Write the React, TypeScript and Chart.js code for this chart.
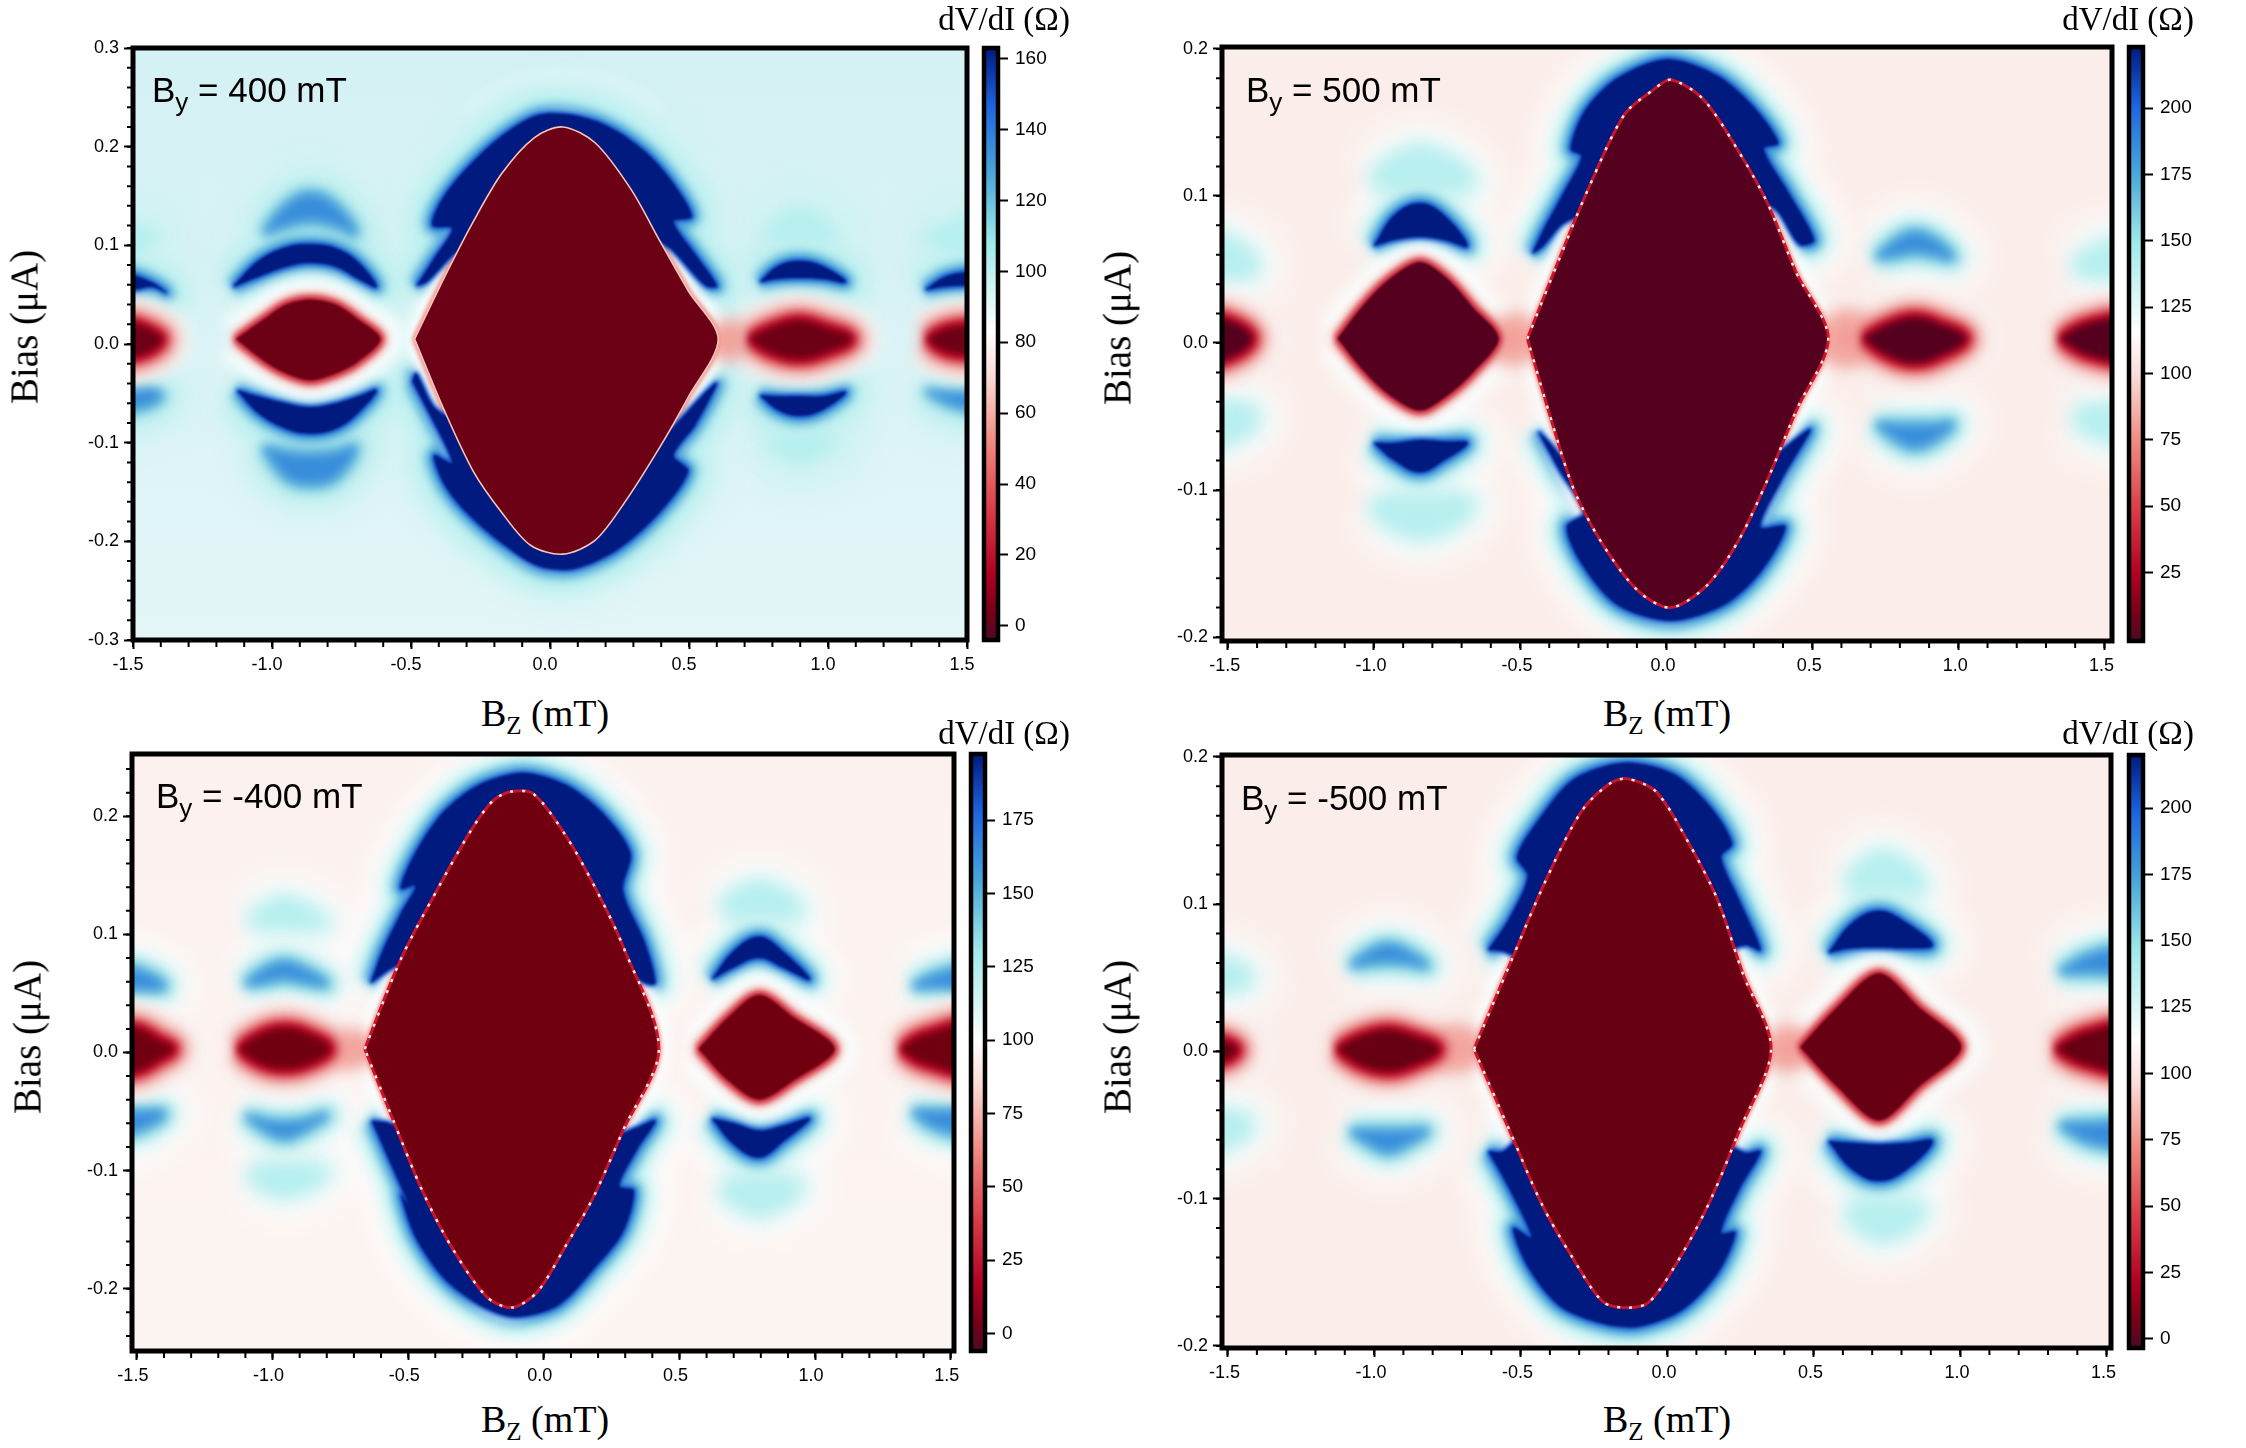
import React, { useEffect, useRef } from "react";
import { Chart, registerables } from "chart.js";

type Pt = [number, number];

// colour scale shared by all four panels (position on the bar, colour)
const colorStops: [number, string][] = [
  [0, "#4d0a24"], [0.05, "#7a0018"], [0.11, "#b00022"], [0.22, "#d93c48"],
  [0.335, "#f08a80"], [0.447, "#fbdcd8"], [0.52, "#ffffff"], [0.56, "#e6f8f8"],
  [0.67, "#a0eaea"], [0.785, "#4ba8d8"], [0.9, "#1e66e0"], [1, "#001a80"],
];

const xMajor = [-1.5, -1, -0.5, 0, 0.5, 1, 1.5];

// By = 400 mT
const p1Diamond: Pt[] = [[-0.487, 0.005], [-0.379, 0.068], [-0.276, 0.124], [-0.173, 0.173], [-0.057, 0.209], [0.046, 0.22], [0.162, 0.204], [0.291, 0.157], [0.394, 0.105], [0.497, 0.054], [0.605, 0.005], [0.497, -0.054], [0.394, -0.105], [0.265, -0.162], [0.162, -0.199], [0.046, -0.213], [-0.07, -0.204], [-0.173, -0.171], [-0.276, -0.129], [-0.379, -0.068], [-0.487, 0.005]];
const p1Bands: Pt[][] = [
  [[-0.48, 0.059], [-0.417, 0.087], [-0.353, 0.117], [-0.423, 0.12], [-0.392, 0.145], [-0.3, 0.178], [-0.173, 0.211], [-0.044, 0.232], [0.085, 0.232], [0.214, 0.22], [0.343, 0.195], [0.446, 0.162], [0.51, 0.129], [0.446, 0.124], [0.523, 0.091], [0.6, 0.059], [0.56, 0.059], [0.44, 0.095], [0.37, 0.11], [0.32, 0.14], [0.19, 0.17], [0.046, 0.2], [-0.1, 0.165], [-0.3, 0.1], [-0.35, 0.09], [-0.443, 0.063], [-0.48, 0.059]],
  [[-0.495, -0.038], [-0.43, -0.073], [-0.353, -0.12], [-0.417, -0.113], [-0.379, -0.143], [-0.3, -0.171], [-0.173, -0.202], [-0.044, -0.225], [0.085, -0.228], [0.24, -0.209], [0.394, -0.171], [0.497, -0.129], [0.446, -0.113], [0.523, -0.082], [0.6, -0.04], [0.56, -0.049], [0.44, -0.085], [0.34, -0.11], [0.27, -0.14], [0.162, -0.18], [0.046, -0.195], [-0.08, -0.18], [-0.27, -0.11], [-0.34, -0.08], [-0.42, -0.063], [-0.482, -0.03], [-0.495, -0.038]],
];
const p1Strong: Pt[][] = [
  [[-1.14, 0.058], [-1.05, 0.084], [-0.95, 0.098], [-0.863, 0.101], [-0.77, 0.097], [-0.69, 0.083], [-0.624, 0.058], [-0.69, 0.066], [-0.77, 0.078], [-0.863, 0.082], [-0.95, 0.078], [-1.05, 0.068], [-1.14, 0.058]],
  [[-1.126, -0.047], [-1.05, -0.07], [-0.95, -0.086], [-0.863, -0.091], [-0.77, -0.086], [-0.69, -0.07], [-0.624, -0.047], [-0.69, -0.053], [-0.77, -0.06], [-0.863, -0.064], [-0.95, -0.06], [-1.05, -0.053], [-1.126, -0.047]],
  [[0.755, 0.063], [0.82, 0.079], [0.897, 0.084], [0.98, 0.079], [1.064, 0.063], [0.98, 0.066], [0.897, 0.067], [0.82, 0.066], [0.755, 0.063]],
  [[0.755, -0.052], [0.82, -0.053], [0.897, -0.053], [0.98, -0.053], [1.064, -0.049], [0.98, -0.067], [0.897, -0.073], [0.82, -0.067], [0.755, -0.052]],
  [[-1.6, 0.078], [-1.5, 0.07], [-1.43, 0.062], [-1.38, 0.052], [-1.43, 0.058], [-1.5, 0.055], [-1.6, 0.056], [-1.6, 0.078]],
  [[1.35, 0.055], [1.42, 0.068], [1.5, 0.073], [1.6, 0.075], [1.6, 0.058], [1.5, 0.059], [1.42, 0.058], [1.35, 0.055]],
];
const p1Medium: Pt[][] = [
  [[-1.03, 0.112], [-0.95, 0.14], [-0.863, 0.152], [-0.77, 0.14], [-0.7, 0.112], [-0.77, 0.12], [-0.863, 0.125], [-0.95, 0.12], [-1.03, 0.112]],
  [[-1.03, -0.105], [-0.95, -0.11], [-0.863, -0.112], [-0.77, -0.11], [-0.7, -0.105], [-0.77, -0.135], [-0.863, -0.142], [-0.95, -0.135], [-1.03, -0.105]],
  [[-1.6, -0.05], [-1.5, -0.048], [-1.43, -0.047], [-1.4, -0.053], [-1.43, -0.06], [-1.5, -0.066], [-1.6, -0.072], [-1.6, -0.05]],
  [[1.35, -0.047], [1.42, -0.05], [1.5, -0.05], [1.6, -0.05], [1.6, -0.068], [1.5, -0.065], [1.42, -0.058], [1.35, -0.047]],
];
const p1Faint: Pt[][] = [
  [[0.78, 0.108], [0.84, 0.125], [0.897, 0.132], [0.96, 0.125], [1.02, 0.108], [0.96, 0.11], [0.897, 0.112], [0.84, 0.11], [0.78, 0.108]],
  [[0.78, -0.098], [0.84, -0.099], [0.897, -0.1], [0.96, -0.099], [1.02, -0.098], [0.96, -0.108], [0.897, -0.115], [0.84, -0.108], [0.78, -0.098]],
  [[-1.6, 0.13], [-1.5, 0.115], [-1.42, 0.11], [-1.5, 0.1], [-1.6, 0.1], [-1.6, 0.13]],
  [[1.35, 0.108], [1.45, 0.118], [1.6, 0.13], [1.6, 0.1], [1.45, 0.1], [1.35, 0.108]],
];
const p1Hard: Pt[][] = [
  [[-1.13, 0.005], [-1.03, 0.025], [-0.95, 0.04], [-0.863, 0.045], [-0.77, 0.04], [-0.69, 0.025], [-0.61, 0.005], [-0.69, -0.018], [-0.77, -0.03], [-0.863, -0.037], [-0.95, -0.03], [-1.03, -0.017], [-1.13, 0.005]],
];
const p1Soft: Pt[][] = [
  [[0.72, 0.005], [0.8, 0.016], [0.897, 0.023], [0.99, 0.016], [1.08, 0.005], [0.99, -0.008], [0.897, -0.014], [0.8, -0.008], [0.72, 0.005]],
  [[-1.6, 0.02], [-1.5, 0.02], [-1.43, 0.012], [-1.4, 0.005], [-1.43, -0.005], [-1.5, -0.012], [-1.6, -0.012], [-1.6, 0.02]],
  [[1.36, 0.005], [1.42, 0.014], [1.5, 0.018], [1.6, 0.02], [1.6, -0.012], [1.5, -0.01], [1.42, -0.006], [1.36, 0.005]],
];
const p1Bridges: Pt[][] = [[[0.6, 0.012], [0.64, 0.016], [0.68, 0.012], [0.68, -0.004], [0.64, -0.008], [0.6, -0.004], [0.6, 0.012]]];
const p1Rings: Pt[][] = [
  [[-0.3, 0.235], [-0.15, 0.262], [0.05, 0.272], [0.25, 0.262], [0.4, 0.235]],
  [[-0.3, -0.225], [-0.15, -0.25], [0.05, -0.258], [0.25, -0.25], [0.4, -0.225]],
];

// By = 500 mT
const p2Diamond: Pt[] = [[-0.475, 0.003], [-0.364, 0.058], [-0.266, 0.105], [-0.144, 0.155], [-0.045, 0.172], [0.016, 0.179], [0.126, 0.166], [0.249, 0.13], [0.347, 0.095], [0.445, 0.048], [0.555, 0.003], [0.445, -0.046], [0.347, -0.093], [0.249, -0.134], [0.139, -0.165], [0.016, -0.18], [-0.094, -0.169], [-0.217, -0.137], [-0.315, -0.1], [-0.389, -0.055], [-0.475, 0.003]];
const p2Bands: Pt[][] = [
  [[-0.457, 0.061], [-0.425, 0.075], [-0.352, 0.102], [-0.29, 0.127], [-0.327, 0.132], [-0.278, 0.158], [-0.168, 0.18], [0.004, 0.193], [0.175, 0.182], [0.298, 0.161], [0.384, 0.136], [0.335, 0.132], [0.42, 0.102], [0.506, 0.07], [0.457, 0.067], [0.38, 0.09], [0.3, 0.1], [0.2, 0.13], [0.077, 0.155], [-0.045, 0.155], [-0.168, 0.125], [-0.28, 0.09], [-0.36, 0.08], [-0.42, 0.066], [-0.457, 0.061]],
  [[-0.438, -0.06], [-0.364, -0.087], [-0.278, -0.115], [-0.34, -0.125], [-0.29, -0.15], [-0.168, -0.178], [0.016, -0.189], [0.2, -0.178], [0.323, -0.156], [0.408, -0.125], [0.323, -0.125], [0.396, -0.093], [0.494, -0.059], [0.445, -0.065], [0.36, -0.08], [0.3, -0.1], [0.2, -0.13], [0.016, -0.16], [-0.143, -0.14], [-0.26, -0.1], [-0.33, -0.085], [-0.39, -0.07], [-0.438, -0.06]],
];
const p2Strong: Pt[][] = [
  [[-1.0, 0.066], [-0.93, 0.087], [-0.843, 0.095], [-0.76, 0.087], [-0.68, 0.066], [-0.76, 0.07], [-0.843, 0.072], [-0.93, 0.07], [-1.0, 0.066]],
  [[-1.0, -0.068], [-0.93, -0.068], [-0.843, -0.066], [-0.76, -0.067], [-0.68, -0.068], [-0.76, -0.08], [-0.843, -0.088], [-0.93, -0.08], [-1.0, -0.068]],
];
const p2Medium: Pt[][] = [
  [[0.72, 0.058], [0.79, 0.07], [0.85, 0.075], [0.92, 0.07], [0.98, 0.058], [0.92, 0.06], [0.85, 0.062], [0.79, 0.06], [0.72, 0.058]],
  [[0.72, -0.055], [0.79, -0.056], [0.85, -0.056], [0.92, -0.056], [0.98, -0.055], [0.92, -0.066], [0.85, -0.071], [0.79, -0.066], [0.72, -0.055]],
];
const p2Faint: Pt[][] = [
  [[-1.0, 0.11], [-0.92, 0.122], [-0.843, 0.128], [-0.76, 0.122], [-0.68, 0.11], [-0.76, 0.11], [-0.843, 0.112], [-0.92, 0.11], [-1.0, 0.11]],
  [[-1.0, -0.11], [-0.92, -0.11], [-0.843, -0.11], [-0.76, -0.11], [-0.68, -0.11], [-0.76, -0.122], [-0.843, -0.127], [-0.92, -0.122], [-1.0, -0.11]],
  [[-1.62, 0.07], [-1.5, 0.066], [-1.42, 0.052], [-1.5, 0.05], [-1.62, 0.052], [-1.62, 0.07]],
  [[-1.62, -0.045], [-1.5, -0.046], [-1.42, -0.05], [-1.5, -0.062], [-1.62, -0.065], [-1.62, -0.045]],
  [[1.4, 0.052], [1.5, 0.062], [1.62, 0.068], [1.62, 0.05], [1.5, 0.05], [1.4, 0.052]],
  [[1.4, -0.05], [1.5, -0.048], [1.62, -0.046], [1.62, -0.064], [1.5, -0.06], [1.4, -0.05]],
];
const p2Hard: Pt[][] = [
  [[-1.125, 0.003], [-1.04, 0.025], [-0.95, 0.043], [-0.843, 0.055], [-0.75, 0.044], [-0.66, 0.024], [-0.573, 0.003], [-0.66, -0.02], [-0.75, -0.036], [-0.843, -0.046], [-0.95, -0.035], [-1.04, -0.018], [-1.125, 0.003]],
];
const p2Soft: Pt[][] = [
  [[0.678, 0.003], [0.76, 0.012], [0.85, 0.017], [0.94, 0.012], [1.022, 0.003], [0.94, -0.008], [0.85, -0.013], [0.76, -0.008], [0.678, 0.003]],
  [[-1.62, 0.018], [-1.5, 0.015], [-1.42, 0.003], [-1.5, -0.01], [-1.62, -0.012], [-1.62, 0.018]],
  [[1.35, 0.003], [1.45, 0.013], [1.6, 0.015], [1.6, -0.01], [1.45, -0.008], [1.35, 0.003]],
];
const p2Bridges: Pt[][] = [
  [[-0.58, 0.01], [-0.52, 0.014], [-0.47, 0.01], [-0.47, -0.005], [-0.52, -0.009], [-0.58, -0.005], [-0.58, 0.01]],
  [[0.55, 0.012], [0.61, 0.016], [0.68, 0.012], [0.68, -0.006], [0.61, -0.01], [0.55, -0.006], [0.55, 0.012]],
];

// By = -400 mT
const p3Diamond: Pt[] = [[-0.66, 0.003], [-0.527, 0.079], [-0.395, 0.137], [-0.263, 0.19], [-0.184, 0.214], [-0.118, 0.221], [-0.038, 0.219], [0.08, 0.184], [0.186, 0.141], [0.292, 0.09], [0.424, 0.003], [0.292, -0.066], [0.186, -0.121], [0.08, -0.164], [-0.025, -0.203], [-0.118, -0.216], [-0.21, -0.207], [-0.342, -0.164], [-0.448, -0.117], [-0.554, -0.058], [-0.66, 0.003]];
const p3Bands: Pt[][] = [
  [[-0.638, 0.059], [-0.593, 0.087], [-0.527, 0.118], [-0.474, 0.141], [-0.527, 0.139], [-0.474, 0.169], [-0.369, 0.204], [-0.237, 0.227], [-0.078, 0.237], [0.08, 0.227], [0.212, 0.204], [0.319, 0.169], [0.292, 0.137], [0.371, 0.094], [0.411, 0.059], [0.371, 0.059], [0.3, 0.075], [0.2, 0.12], [0.028, 0.18], [-0.118, 0.2], [-0.237, 0.175], [-0.38, 0.12], [-0.5, 0.08], [-0.57, 0.07], [-0.638, 0.059]],
  [[-0.634, -0.058], [-0.567, -0.093], [-0.501, -0.128], [-0.527, -0.12], [-0.474, -0.156], [-0.369, -0.191], [-0.237, -0.214], [-0.104, -0.224], [0.054, -0.214], [0.186, -0.183], [0.292, -0.152], [0.332, -0.117], [0.279, -0.113], [0.345, -0.082], [0.411, -0.058], [0.358, -0.062], [0.25, -0.075], [0.16, -0.12], [0, -0.17], [-0.118, -0.195], [-0.237, -0.175], [-0.38, -0.12], [-0.5, -0.07], [-0.57, -0.06], [-0.634, -0.058]],
];
const p3Strong: Pt[][] = [
  [[0.62, 0.062], [0.7, 0.086], [0.794, 0.098], [0.88, 0.086], [0.98, 0.062], [0.88, 0.072], [0.794, 0.08], [0.7, 0.072], [0.62, 0.062]],
  [[0.62, -0.056], [0.7, -0.06], [0.794, -0.066], [0.88, -0.062], [0.98, -0.056], [0.88, -0.076], [0.794, -0.089], [0.7, -0.078], [0.62, -0.056]],
];
const p3Medium: Pt[][] = [
  [[-1.1, 0.058], [-1.03, 0.07], [-0.956, 0.076], [-0.88, 0.07], [-0.8, 0.058], [-0.88, 0.06], [-0.956, 0.063], [-1.03, 0.06], [-1.1, 0.058]],
  [[-1.1, -0.053], [-1.03, -0.058], [-0.956, -0.06], [-0.88, -0.058], [-0.8, -0.053], [-0.88, -0.065], [-0.956, -0.072], [-1.03, -0.065], [-1.1, -0.053]],
  [[-1.62, 0.072], [-1.5, 0.07], [-1.4, 0.056], [-1.5, 0.054], [-1.62, 0.056], [-1.62, 0.072]],
  [[-1.62, -0.05], [-1.5, -0.05], [-1.4, -0.052], [-1.5, -0.066], [-1.62, -0.07], [-1.62, -0.05]],
  [[1.36, 0.056], [1.45, 0.066], [1.62, 0.074], [1.62, 0.056], [1.45, 0.056], [1.36, 0.056]],
  [[1.36, -0.05], [1.45, -0.05], [1.62, -0.05], [1.62, -0.07], [1.45, -0.064], [1.36, -0.05]],
];
const p3Faint: Pt[][] = [
  [[-1.08, 0.11], [-1.02, 0.118], [-0.956, 0.124], [-0.89, 0.118], [-0.82, 0.11], [-0.89, 0.112], [-0.956, 0.113], [-1.02, 0.112], [-1.08, 0.11]],
  [[-1.08, -0.102], [-1.02, -0.102], [-0.956, -0.103], [-0.89, -0.102], [-0.82, -0.102], [-0.89, -0.11], [-0.956, -0.115], [-1.02, -0.11], [-1.08, -0.102]],
  [[0.66, 0.12], [0.73, 0.132], [0.794, 0.137], [0.86, 0.132], [0.93, 0.12], [0.86, 0.122], [0.794, 0.124], [0.73, 0.122], [0.66, 0.12]],
  [[0.66, -0.113], [0.73, -0.114], [0.794, -0.114], [0.86, -0.114], [0.93, -0.113], [0.86, -0.125], [0.794, -0.131], [0.73, -0.125], [0.66, -0.113]],
];
const p3Hard: Pt[][] = [
  [[0.57, 0.003], [0.68, 0.03], [0.794, 0.049], [0.92, 0.03], [1.072, 0.003], [0.92, -0.024], [0.794, -0.04], [0.68, -0.024], [0.57, 0.003]],
];
const p3Soft: Pt[][] = [
  [[-1.122, 0.003], [-1.04, 0.015], [-0.956, 0.02], [-0.87, 0.015], [-0.792, 0.003], [-0.87, -0.009], [-0.956, -0.013], [-1.04, -0.009], [-1.122, 0.003]],
  [[-1.6, 0.02], [-1.5, 0.02], [-1.42, 0.01], [-1.37, 0.003], [-1.42, -0.005], [-1.5, -0.015], [-1.6, -0.015], [-1.6, 0.02]],
  [[1.32, 0.003], [1.4, 0.014], [1.6, 0.022], [1.6, -0.015], [1.4, -0.008], [1.32, 0.003]],
];
const p3Bridges: Pt[][] = [[[-0.76, 0.008], [-0.71, 0.012], [-0.66, 0.008], [-0.66, -0.003], [-0.71, -0.006], [-0.76, -0.003], [-0.76, 0.008]]];

// By = -500 mT
const p4Diamond: Pt[] = [[-0.659, 0.0015], [-0.537, 0.059], [-0.414, 0.116], [-0.292, 0.163], [-0.194, 0.182], [-0.133, 0.185], [-0.036, 0.176], [0.075, 0.141], [0.172, 0.103], [0.258, 0.053], [0.355, 0.0015], [0.246, -0.054], [0.148, -0.101], [0.05, -0.138], [-0.06, -0.17], [-0.133, -0.174], [-0.219, -0.17], [-0.329, -0.138], [-0.427, -0.104], [-0.537, -0.054], [-0.659, 0.0015]];
const p4Bands: Pt[][] = [
  [[-0.61, 0.069], [-0.537, 0.091], [-0.476, 0.119], [-0.512, 0.132], [-0.439, 0.157], [-0.317, 0.185], [-0.146, 0.196], [0.026, 0.188], [0.148, 0.166], [0.222, 0.141], [0.185, 0.132], [0.246, 0.103], [0.319, 0.069], [0.27, 0.072], [0.2, 0.07], [0.13, 0.1], [0.026, 0.13], [-0.12, 0.165], [-0.268, 0.145], [-0.4, 0.1], [-0.5, 0.065], [-0.56, 0.068], [-0.61, 0.069]],
  [[-0.61, -0.068], [-0.537, -0.094], [-0.464, -0.126], [-0.525, -0.12], [-0.476, -0.146], [-0.366, -0.173], [-0.219, -0.185], [-0.097, -0.187], [0.05, -0.176], [0.172, -0.151], [0.233, -0.123], [0.185, -0.123], [0.246, -0.094], [0.319, -0.068], [0.27, -0.069], [0.2, -0.065], [0.12, -0.095], [0.05, -0.12], [-0.133, -0.155], [-0.292, -0.125], [-0.4, -0.09], [-0.5, -0.06], [-0.56, -0.068], [-0.61, -0.068]],
];
const p4Strong: Pt[][] = [
  [[0.551, 0.067], [0.63, 0.087], [0.723, 0.0955], [0.82, 0.087], [0.906, 0.072], [0.82, 0.07], [0.723, 0.0705], [0.63, 0.07], [0.551, 0.067]],
  [[0.551, -0.061], [0.63, -0.062], [0.723, -0.063], [0.82, -0.062], [0.906, -0.061], [0.82, -0.08], [0.723, -0.088], [0.63, -0.08], [0.551, -0.061]],
];
const p4Medium: Pt[][] = [
  [[-1.08, 0.058], [-1.02, 0.067], [-0.952, 0.072], [-0.88, 0.067], [-0.82, 0.058], [-0.88, 0.06], [-0.952, 0.061], [-1.02, 0.06], [-1.08, 0.058]],
  [[-1.08, -0.054], [-1.02, -0.054], [-0.952, -0.054], [-0.88, -0.054], [-0.82, -0.054], [-0.88, -0.062], [-0.952, -0.068], [-1.02, -0.062], [-1.08, -0.054]],
  [[1.34, 0.054], [1.45, 0.066], [1.62, 0.07], [1.62, 0.054], [1.45, 0.054], [1.34, 0.054]],
  [[1.34, -0.05], [1.45, -0.049], [1.62, -0.048], [1.62, -0.064], [1.45, -0.062], [1.34, -0.05]],
];
const p4Faint: Pt[][] = [
  [[0.62, 0.112], [0.68, 0.124], [0.733, 0.13], [0.8, 0.124], [0.86, 0.112], [0.8, 0.114], [0.733, 0.116], [0.68, 0.114], [0.62, 0.112]],
  [[0.62, -0.108], [0.68, -0.108], [0.733, -0.108], [0.8, -0.108], [0.86, -0.108], [0.8, -0.118], [0.733, -0.123], [0.68, -0.118], [0.62, -0.108]],
  [[-1.62, 0.06], [-1.52, 0.058], [-1.44, 0.05], [-1.52, 0.046], [-1.62, 0.046], [-1.62, 0.06]],
  [[-1.62, -0.046], [-1.52, -0.046], [-1.44, -0.05], [-1.52, -0.06], [-1.62, -0.06], [-1.62, -0.046]],
];
const p4Hard: Pt[][] = [
  [[0.454, 0.003], [0.58, 0.03], [0.723, 0.053], [0.86, 0.03], [1.004, 0.003], [0.86, -0.024], [0.723, -0.047], [0.58, -0.024], [0.454, 0.003]],
];
const p4Soft: Pt[][] = [
  [[-1.123, 0.0015], [-1.04, 0.01], [-0.952, 0.014], [-0.87, 0.01], [-0.781, 0.0015], [-0.87, -0.009], [-0.952, -0.013], [-1.04, -0.009], [-1.123, 0.0015]],
  [[-1.62, 0.008], [-1.52, 0.007], [-1.47, 0.001], [-1.52, -0.006], [-1.62, -0.007], [-1.62, 0.008]],
  [[1.33, 0.0015], [1.43, 0.012], [1.6, 0.016], [1.6, -0.012], [1.43, -0.008], [1.33, 0.0015]],
];
const p4Bridges: Pt[][] = [
  [[-0.78, 0.008], [-0.72, 0.012], [-0.66, 0.008], [-0.66, -0.004], [-0.72, -0.008], [-0.78, -0.004], [-0.78, 0.008]],
  [[0.36, 0.008], [0.41, 0.012], [0.46, 0.008], [0.46, -0.004], [0.41, -0.008], [0.36, -0.004], [0.36, 0.008]],
];

interface Panel {
  label: string; left: number; right: number; top: number; bottom: number;
  xRange: Pt; yRange: Pt; yMajor: number[]; cbLeft: number; cbRange: Pt; cbTicks: number[];
  bgTop: string; bgBottom: string; base: number; core: string; dashed: boolean; labelOffset: number;
  diamond: Pt[]; bands: Pt[][]; strong: Pt[][]; medium: Pt[][]; faint: Pt[][]; hard: Pt[][]; soft: Pt[][]; bridges: Pt[][]; rings: Pt[][];
  labelX: number; labelY: number; biasX: number; biasY: number; bzX: number; bzY: number; unitX: number; unitY: number;
}

const panels: Panel[] = [
  {
    label: "400 mT", left: 133, right: 967, top: 48, bottom: 640, xRange: [-1.5, 1.5], yRange: [-0.3, 0.3],
    yMajor: [-0.3, -0.2, -0.1, 0, 0.1, 0.2, 0.3], cbLeft: 984, cbRange: [-4, 163], cbTicks: [0, 20, 40, 60, 80, 100, 120, 140, 160],
    bgTop: "#d4f1f4", bgBottom: "#e3f6f8", base: 0.6, core: "#6c0014", dashed: false, labelOffset: -5,
    diamond: p1Diamond, bands: p1Bands, strong: p1Strong, medium: p1Medium, faint: p1Faint, hard: p1Hard, soft: p1Soft, bridges: p1Bridges, rings: p1Rings,
    labelX: 152, labelY: 72, biasX: 24, biasY: 327, bzX: 545, bzY: 713, unitX: 1004, unitY: 19,
  },
  {
    label: "500 mT", left: 1222, right: 2112, top: 47, bottom: 641, xRange: [-1.52, 1.526], yRange: [-0.2027, 0.2013],
    yMajor: [-0.2, -0.1, 0, 0.1, 0.2], cbLeft: 2129, cbRange: [-0.8, 223], cbTicks: [25, 50, 75, 100, 125, 150, 175, 200],
    bgTop: "#fbeeea", bgBottom: "#fbeeea", base: 0.52, core: "#55001e", dashed: true, labelOffset: -3,
    diamond: p2Diamond, bands: p2Bands, strong: p2Strong, medium: p2Medium, faint: p2Faint, hard: p2Hard, soft: p2Soft, bridges: p2Bridges, rings: [],
    labelX: 1246, labelY: 72, biasX: 1117, biasY: 328, bzX: 1667, bzY: 713, unitX: 2128, unitY: 19,
  },
  {
    label: "-400 mT", left: 132, right: 954, top: 754, bottom: 1351, xRange: [-1.518, 1.512], yRange: [-0.2528, 0.2528],
    yMajor: [-0.2, -0.1, 0, 0.1, 0.2], cbLeft: 971, cbRange: [-6, 197.5], cbTicks: [0, 25, 50, 75, 100, 125, 150, 175],
    bgTop: "#fcf1ee", bgBottom: "#fdf5f2", base: 0.52, core: "#700010", dashed: true, labelOffset: -4,
    diamond: p3Diamond, bands: p3Bands, strong: p3Strong, medium: p3Medium, faint: p3Faint, hard: p3Hard, soft: p3Soft, bridges: p3Bridges, rings: [],
    labelX: 156, labelY: 778, biasX: 27, biasY: 1037, bzX: 545, bzY: 1419, unitX: 1004, unitY: 733,
  },
  {
    label: "-500 mT", left: 1222, right: 2111, top: 755, bottom: 1348, xRange: [-1.519, 1.515], yRange: [-0.2014, 0.2012],
    yMajor: [-0.2, -0.1, 0, 0.1, 0.2], cbLeft: 2129, cbRange: [-3.4, 220], cbTicks: [0, 25, 50, 75, 100, 125, 150, 175, 200],
    bgTop: "#fbeeea", bgBottom: "#fbeeea", base: 0.52, core: "#660012", dashed: true, labelOffset: -3,
    diamond: p4Diamond, bands: p4Bands, strong: p4Strong, medium: p4Medium, faint: p4Faint, hard: p4Hard, soft: p4Soft, bridges: p4Bridges, rings: [],
    labelX: 1241, labelY: 780, biasX: 1117, biasY: 1037, bzX: 1667, bzY: 1419, unitX: 2128, unitY: 733,
  },
];

function hexToRgb(hex: string) {
  return [1, 3, 5].map((i) => parseInt(hex.slice(i, i + 2), 16));
}

function cmap(t: number) {
  for (let i = 1; i < colorStops.length; i++) {
    if (t <= colorStops[i][0]) {
      const [t0, c0] = colorStops[i - 1];
      const [t1, c1] = colorStops[i];
      const f = (t - t0) / (t1 - t0);
      const a = hexToRgb(c0);
      const b = hexToRgb(c1);
      return `rgb(${a.map((v, k) => Math.round(v + (b[k] - v) * f)).join(",")})`;
    }
  }
  return colorStops[colorStops.length - 1][1];
}

// one contour is painted several times, widened and blurred, to get the soft colour falloff
type Stage = { t: number; w: number; blur: number; rank: number; fill?: boolean };
const BASE = -1;
const CORE = -2;
const faintStages: Stage[] = [
  { t: BASE, w: 60, blur: 16, rank: 0 },
  { t: 0.58, w: 34, blur: 12, rank: 1 },
  { t: 0.64, w: 12, blur: 9, rank: 2 },
];
const mediumStages: Stage[] = [
  { t: BASE, w: 60, blur: 15, rank: 0 },
  { t: 0.62, w: 32, blur: 10, rank: 1 },
  { t: 0.72, w: 14, blur: 7, rank: 2 },
  { t: 0.83, w: 2, blur: 5, rank: 4 },
];
const strongStages: Stage[] = [
  { t: BASE, w: 64, blur: 14, rank: 0 },
  { t: 0.64, w: 36, blur: 9, rank: 1 },
  { t: 0.8, w: 16, blur: 5, rank: 2 },
  { t: 0.92, w: 4, blur: 2, rank: 4 },
  { t: 1, w: 0, blur: 1.2, rank: 4 },
];
const hardStages: Stage[] = [
  { t: 0.53, w: 46, blur: 8, rank: 3 },
  { t: 0.36, w: 14, blur: 5, rank: 5 },
  { t: 0.16, w: 6, blur: 3, rank: 6 },
  { t: CORE, w: 0, blur: 1, rank: 7 },
];
const softStages: Stage[] = [
  { t: 0.53, w: 56, blur: 9, rank: 3 },
  { t: 0.38, w: 38, blur: 9, rank: 5 },
  { t: 0.2, w: 20, blur: 6, rank: 6 },
  { t: 0.1, w: 8, blur: 4, rank: 6 },
  { t: CORE, w: 0, blur: 3, rank: 7 },
];
const bridgeStages: Stage[] = [{ t: 0.36, w: 14, blur: 9, rank: 5 }];
const diamondStages: Stage[] = [
  { t: 0.53, w: 24, blur: 7, rank: 3 },
  { t: 0.34, w: 5, blur: 2, rank: 3.5 },
];
const ringStages: Stage[] = [{ t: 0.56, w: 8, blur: 8, rank: 0, fill: false }];

function contourDatasets(panel: Panel) {
  const layers: { pts: Pt[]; stage: Stage; tension: number }[] = [];
  const add = (list: Pt[][], stages: Stage[], tension: number) =>
    list.forEach((pts) => stages.forEach((stage) => layers.push({ pts, stage, tension })));
  add(panel.rings, ringStages, 0.4);
  add(panel.faint, faintStages, 0.4);
  add(panel.medium, mediumStages, 0.4);
  add(panel.strong, strongStages, 0.4);
  add(panel.bands, strongStages, 0.3);
  add([panel.diamond], diamondStages, 0.3);
  add(panel.bridges, bridgeStages, 0.4);
  add(panel.hard, hardStages, 0.3);
  add(panel.soft, softStages, 0.4);
  layers.sort((a, b) => a.stage.rank - b.stage.rank);

  const data = (pts: Pt[]) => pts.map(([x, y]) => ({ x, y }));
  const sets: any[] = layers.map(({ pts, stage, tension }) => {
    const color = stage.t === BASE ? cmap(panel.base) : stage.t === CORE ? panel.core : cmap(stage.t);
    return {
      data: data(pts), showLine: true, pointRadius: 0, tension, clip: 0, fill: stage.fill === false ? false : "shape",
      backgroundColor: color, borderColor: color, borderWidth: stage.w, borderJoinStyle: "round",
      blur: stage.blur,
    };
  });
  // main lobe on top, with its speckled rim
  const rim = { data: data(panel.diamond), showLine: true, pointRadius: 0, tension: 0.3, clip: 0, fill: false };
  sets.push({ ...rim, fill: "shape", backgroundColor: panel.core, borderColor: panel.core, borderWidth: 0, blur: 0.4 });
  if (panel.dashed) {
    sets.push({ ...rim, borderColor: "#c8142c", borderWidth: 3 });
    sets.push({ ...rim, borderColor: "#fde8e4", borderWidth: 2.5, borderDash: [3, 9], borderCapStyle: "butt" });
  } else {
    sets.push({ ...rim, borderColor: "#f6c4bc", borderWidth: 1.6 });
  }
  // chart.js paints the highest order first
  return sets.map((s, i) => ({ ...s, order: sets.length - i }));
}

const softEdges = {
  id: "softEdges",
  beforeDatasetDraw(chart: any, args: any) {
    const blur = chart.data.datasets[args.index].blur;
    chart.ctx.save();
    if (blur) chart.ctx.filter = `blur(${blur}px)`;
  },
  afterDatasetDraw(chart: any) {
    chart.ctx.restore();
  },
};

// registered before the filler plugin so the blur also applies to the area fill
Chart.register(softEdges);
Chart.register(...registerables);

const plotBackground = {
  id: "plotBackground",
  beforeDatasetsDraw(chart: any, _args: any, opts: any) {
    const { ctx, chartArea: a } = chart;
    const g = ctx.createLinearGradient(0, a.top, 0, a.bottom);
    g.addColorStop(0, opts.top);
    g.addColorStop(1, opts.bottom);
    ctx.save();
    ctx.fillStyle = g;
    ctx.fillRect(a.left, a.top, a.width, a.height);
    ctx.restore();
  },
};

const frameAndMinorTicks = {
  id: "frameAndMinorTicks",
  afterDraw(chart: any, _args: any, opts: any) {
    const { ctx, chartArea: a, scales } = chart;
    ctx.save();
    ctx.strokeStyle = "#000";
    ctx.lineWidth = 2;
    if (opts.xStep) {
      const sx = scales.x;
      ctx.beginPath();
      for (let i = Math.ceil(sx.min / opts.xStep); i * opts.xStep <= sx.max; i++) {
        const px = sx.getPixelForValue(i * opts.xStep);
        ctx.moveTo(px, a.bottom);
        ctx.lineTo(px, a.bottom + 7);
      }
      const sy = scales.y;
      for (let i = Math.ceil(sy.min / opts.yStep); i * opts.yStep <= sy.max; i++) {
        const py = sy.getPixelForValue(i * opts.yStep);
        ctx.moveTo(a.left, py);
        ctx.lineTo(a.left - 6, py);
      }
      ctx.stroke();
    }
    ctx.lineWidth = opts.width;
    ctx.strokeRect(a.left, a.top, a.width, a.height);
    ctx.restore();
  },
};

const PAD = 20;
const AXIS_W = 100;
const AXIS_H = 44;
const CB_W = 14;
const CB_AXIS = 70;

function Heatmap({ panel }: { panel: Panel }) {
  const plotRef = useRef<HTMLCanvasElement | null>(null);
  const barRef = useRef<HTMLCanvasElement | null>(null);

  useEffect(() => {
    if (!plotRef.current || !barRef.current) return;
    const tickFont = { family: "'Liberation Sans'", size: 18 };
    const plot = new Chart(plotRef.current, {
      type: "scatter",
      data: { datasets: contourDatasets(panel) },
      plugins: [plotBackground, frameAndMinorTicks],
      options: {
        animation: false,
        responsive: false,
        devicePixelRatio: 1,
        layout: { padding: { top: PAD, right: PAD } },
        events: [],
        scales: {
          x: {
            type: "linear",
            min: panel.xRange[0],
            max: panel.xRange[1],
            grid: { drawOnChartArea: false, tickLength: 9, tickColor: "#000", tickWidth: 2 },
            border: { display: false },
            afterBuildTicks: (s: any) => { s.ticks = xMajor.map((value) => ({ value })); },
            afterFit: (s: any) => { s.height = AXIS_H; },
            ticks: { color: "#000", font: tickFont, padding: 5, maxRotation: 0, labelOffset: panel.labelOffset, callback: (v: any) => Number(v).toFixed(1) },
          },
          y: {
            type: "linear",
            min: panel.yRange[0],
            max: panel.yRange[1],
            grid: { drawOnChartArea: false, tickLength: 9, tickColor: "#000", tickWidth: 2 },
            border: { display: false },
            afterBuildTicks: (s: any) => { s.ticks = panel.yMajor.map((value) => ({ value })); },
            afterFit: (s: any) => { s.width = AXIS_W; },
            ticks: { color: "#000", font: tickFont, padding: 5, callback: (v: any) => Number(v).toFixed(1) },
          },
        },
        plugins: {
          legend: { display: false },
          tooltip: { enabled: false },
          plotBackground: { top: panel.bgTop, bottom: panel.bgBottom },
          frameAndMinorTicks: { xStep: 0.1, yStep: 0.02, width: 5 },
        },
      } as any,
    });

    const bar = new Chart(barRef.current, {
      type: "bar",
      data: {
        labels: ["dV/dI"],
        datasets: [{
          data: [panel.cbRange as any],
          barPercentage: 1,
          categoryPercentage: 1,
          backgroundColor: (ctx: any) => {
            const a = ctx.chart.chartArea;
            if (!a) return "#000";
            const g = ctx.chart.ctx.createLinearGradient(0, a.bottom, 0, a.top);
            colorStops.forEach(([t, c]) => g.addColorStop(t, c));
            return g;
          },
        }],
      },
      plugins: [frameAndMinorTicks],
      options: {
        animation: false,
        responsive: false,
        devicePixelRatio: 1,
        layout: { padding: { top: PAD, bottom: PAD, left: 4 } },
        events: [],
        scales: {
          x: { display: false },
          y: {
            position: "right",
            min: panel.cbRange[0],
            max: panel.cbRange[1],
            grid: { drawOnChartArea: false, tickLength: 10, tickColor: "#000", tickWidth: 2 },
            border: { display: false },
            afterBuildTicks: (s: any) => { s.ticks = panel.cbTicks.map((value) => ({ value })); },
            afterFit: (s: any) => { s.width = CB_AXIS; },
            ticks: { color: "#000", font: { family: "'Liberation Sans'", size: 19 }, padding: 7 },
          },
        },
        plugins: {
          legend: { display: false },
          tooltip: { enabled: false },
          frameAndMinorTicks: { width: 4.5 },
        },
      } as any,
    });

    return () => {
      plot.destroy();
      bar.destroy();
    };
  }, [panel]);

  const w = panel.right - panel.left;
  const h = panel.bottom - panel.top;
  const abs: React.CSSProperties = { position: "absolute", whiteSpace: "nowrap", lineHeight: 1, color: "#000" };
  const serif = "'Liberation Serif'";

  return (
    <>
      <canvas
        ref={plotRef}
        width={AXIS_W + w + PAD}
        height={PAD + h + AXIS_H}
        style={{ position: "absolute", left: panel.left - AXIS_W, top: panel.top - PAD }}
      />
      <canvas
        ref={barRef}
        width={4 + CB_W + CB_AXIS}
        height={PAD + h + PAD}
        style={{ position: "absolute", left: panel.cbLeft - 4, top: panel.top - PAD }}
      />
      <div style={{ ...abs, left: panel.labelX, top: panel.labelY, fontFamily: "'Liberation Sans'", fontSize: 35 }}>
        B<sub style={{ fontSize: 26, verticalAlign: -9, lineHeight: 0 }}>y</sub> = {panel.label}
      </div>
      <div style={{ ...abs, left: panel.biasX, top: panel.biasY, fontFamily: serif, fontSize: 39, transform: "translate(-50%,-50%) rotate(-90deg)" }}>
        Bias (μA)
      </div>
      <div style={{ ...abs, left: panel.bzX, top: panel.bzY, fontFamily: serif, fontSize: 38, transform: "translate(-50%,-50%)" }}>
        B<sub style={{ fontSize: 25, verticalAlign: -8, lineHeight: 0 }}>Z</sub> (mT)
      </div>
      <div style={{ ...abs, left: panel.unitX, top: panel.unitY, fontFamily: serif, fontSize: 33, transform: "translate(-50%,-50%)" }}>
        dV/dI (Ω)
      </div>
    </>
  );
}

export default function App() {
  return (
    <div style={{ position: "absolute", left: 0, top: 0, width: 2246, height: 1448, background: "#fff", overflow: "hidden" }}>
      {panels.map((p) => (
        <Heatmap key={p.label} panel={p} />
      ))}
    </div>
  );
}
